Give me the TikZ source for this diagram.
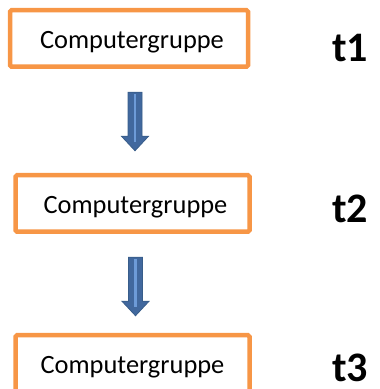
\documentclass[tikz,border=0pt]{standalone}
\usepackage{fontspec}
\setmainfont{Carlito}
\usetikzlibrary{calc}
\definecolor{boxorange}{HTML}{F79646}
\definecolor{arrowblue}{HTML}{41689E}
\definecolor{arrowedge}{HTML}{385D8A}
\definecolor{arrowlight}{HTML}{6D9BD8}
\newcommand{\boxtxt}[2][0pt]{\hspace*{#1}\raisebox{-4pt}[\height][\depth]{#2}}
\begin{document}
\begin{tikzpicture}[x=1pt,y=1pt,
  box/.style={draw=boxorange, line width=4.5pt, rounded corners=1.5pt,
    minimum height=56.5pt, inner sep=0pt, fill=white,
    font=\fontsize{26.4}{30}\selectfont},
  tlabel/.style={anchor=base west, inner sep=0pt,
    font=\fontsize{42}{48}\selectfont\bfseries},
  downarrow/.pic={
    \filldraw[fill=arrowblue, draw=arrowedge, line width=0.8pt]
      (-7,0) -- (7,0) -- (7,-44) -- (13.5,-44) -- (0,-58.5)
      -- (-13.5,-44) -- (-7,-44) -- cycle;
    \draw[arrowlight, line width=2.5pt] (0,-2) -- (0,-50);
  }]
\useasboundingbox (0,0) rectangle (380,389);
\clip (0,0) rectangle (380,389);
\node[box, minimum width=238pt] (b1) at (129,350.5) {\boxtxt[6pt]{Computergruppe}};
\node[box, minimum width=234pt] (b2) at (132.5,185.5) {\boxtxt[6pt]{Computergruppe}};
\node[box, minimum width=234pt] (b3) at (132.5,25.5) {\boxtxt{Computergruppe}};
\pic (a1) at ([xshift=6pt,yshift=-23.25pt]b1.south) {downarrow};
\pic (a2) at ([xshift=3pt,yshift=-23.25pt]b2.south) {downarrow};
\node[tlabel] (l1) at (332,327) {t1};
\node[tlabel] (l2) at (332,166) {t2};
\node[tlabel] (l3) at (332,7.5) {t3};
\end{tikzpicture}
\end{document}
